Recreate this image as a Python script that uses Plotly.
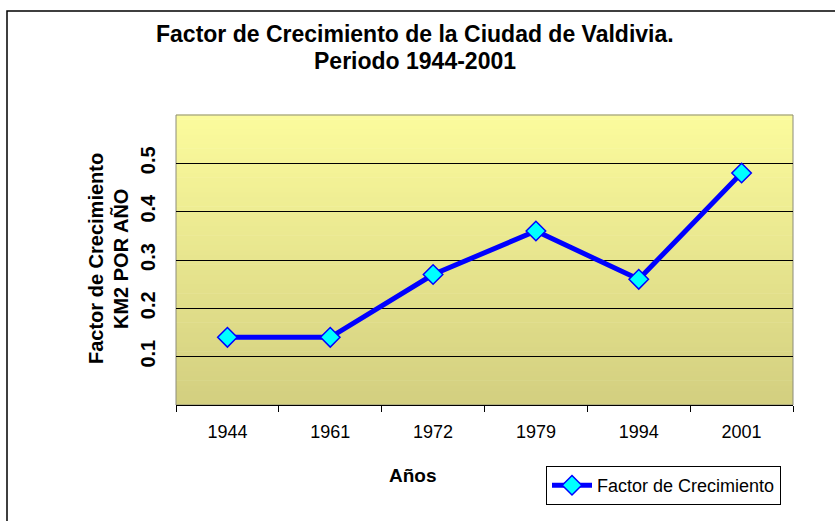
import plotly.graph_objects as go

years = ["1944", "1961", "1972", "1979", "1994", "2001"]
factor = [0.14, 0.14, 0.27, 0.36, 0.26, 0.48]
y_ticks = [0.1, 0.2, 0.3, 0.4, 0.5]
y_tick_text = ["0.1", "0.2", "0.3", "0.4", "0.5"]

FONT = "Liberation Sans, Arial, sans-serif"
W, H = 835, 521
L, R, T, B = 176, 42, 115, 116
pw, ph = W - L - R, H - T - B

def px_x(x):
    return (x - L) / pw

def px_y(y):
    return (H - B - y) / ph

fig = go.Figure()
fig.add_trace(go.Scatter(
    x=years, y=factor, mode="lines+markers", name="Factor de Crecimiento",
    line=dict(color="#0000FF", width=5),
    marker=dict(symbol="diamond", size=15, color="#00FFFF",
                line=dict(color="#0000FF", width=1.5)),
))

# gradient background of plot area
shapes = []
n = 60
top = (251, 251, 156)
bot = (211, 207, 128)
for i in range(n):
    f = i / (n - 1)
    c = tuple(round(bot[k] + (top[k] - bot[k]) * f) for k in range(3))
    shapes.append(dict(type="rect", xref="paper", yref="paper",
                       x0=0, x1=1, y0=i / n, y1=(i + 1) / n + 0.002,
                       fillcolor="rgb(%d,%d,%d)" % c, line=dict(width=0),
                       layer="below"))
# plot area border
shapes.append(dict(type="rect", xref="paper", yref="paper", x0=0, x1=1, y0=0, y1=1,
                   line=dict(color="#8c8c7a", width=1), fillcolor="rgba(0,0,0,0)",
                   layer="below"))
# outer chart border (right/bottom edges fall outside the picture)
shapes.append(dict(type="rect", xref="paper", yref="paper",
                   x0=px_x(7), x1=px_x(900), y0=px_y(560), y1=px_y(11),
                   line=dict(color="black", width=1.5), fillcolor="rgba(0,0,0,0)"))

annotations = [
    dict(text="<b>Factor de Crecimiento de la Ciudad de Valdivia.</b>", x=px_x(415), y=px_y(34),
         xref="paper", yref="paper", showarrow=False, xanchor="center", yanchor="middle",
         font=dict(family=FONT, size=23, color="black")),
    dict(text="<b>Periodo 1944-2001</b>", x=px_x(415), y=px_y(61),
         xref="paper", yref="paper", showarrow=False, xanchor="center", yanchor="middle",
         font=dict(family=FONT, size=23, color="black")),
    dict(text="<b>Factor de Crecimiento</b>", x=px_x(96), y=px_y(259), textangle=-90,
         xref="paper", yref="paper", showarrow=False, xanchor="center", yanchor="middle",
         font=dict(family=FONT, size=20, color="black")),
    dict(text="<b>KM2 POR AÑO</b>", x=px_x(121), y=px_y(259), textangle=-90,
         xref="paper", yref="paper", showarrow=False, xanchor="center", yanchor="middle",
         font=dict(family=FONT, size=20, color="black")),
    dict(text="<b>Años</b>", x=px_x(413), y=px_y(475),
         xref="paper", yref="paper", showarrow=False, xanchor="center", yanchor="middle",
         font=dict(family=FONT, size=19, color="black")),
]

fig.update_layout(
    width=W, height=H,
    margin=dict(l=L, r=R, t=T, b=B),
    paper_bgcolor="white", plot_bgcolor="rgba(0,0,0,0)",
    shapes=shapes, annotations=annotations,
    showlegend=True,
    legend=dict(x=px_x(546), y=px_y(466), xanchor="left", yanchor="top",
                bgcolor="white", bordercolor="black", borderwidth=1,
                font=dict(family=FONT, size=18, color="black"),
                itemwidth=40, tracegroupgap=0),
    font=dict(family=FONT, color="black"),
)
fig.update_xaxes(
    type="category", range=[-0.5, len(years) - 0.5], tickson="boundaries",
    ticks="outside", ticklen=6,
    tickcolor="black", showline=True, linecolor="black", linewidth=1,
    showgrid=False, tickfont=dict(family=FONT, size=18, color="black"),
    ticklabelstandoff=10,
)
fig.update_yaxes(
    range=[0, 0.6], tickvals=y_ticks, ticktext=y_tick_text, tickangle=-90,
    showgrid=True, gridcolor="black", gridwidth=1, zeroline=False,
    showline=False, ticks="",
    tickfont=dict(family=FONT, size=20, color="black", weight="bold"),
    ticklabelstandoff=16,
)

fig.write_html("out.html", config={"displayModeBar": False},
               post_script="document.body.style.margin='0';document.body.style.overflow='hidden';")
